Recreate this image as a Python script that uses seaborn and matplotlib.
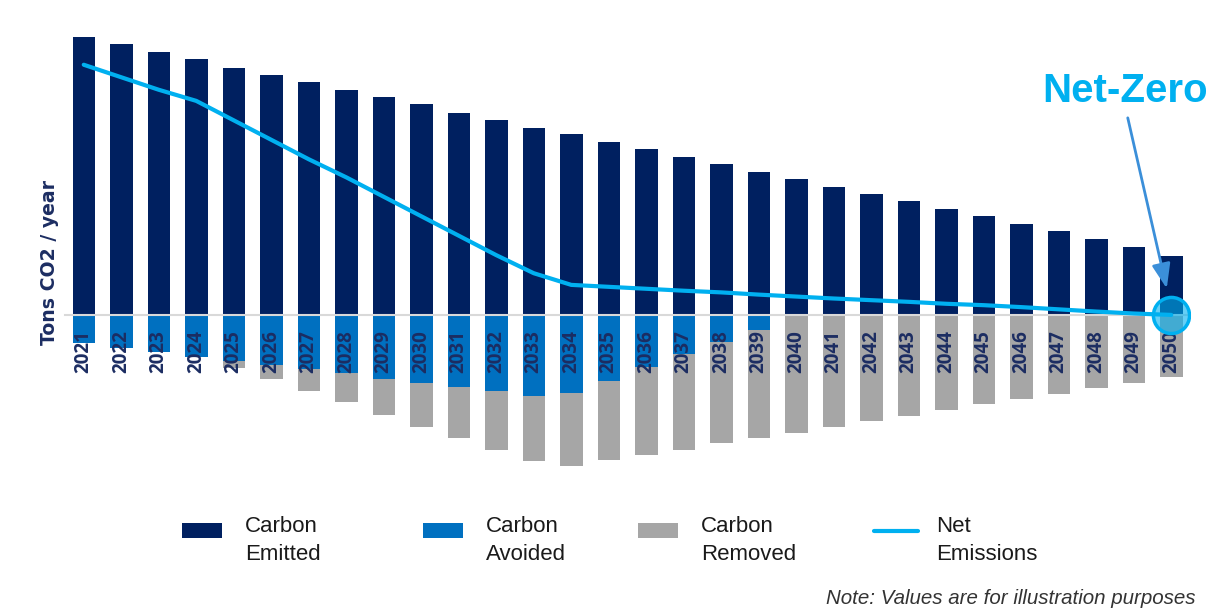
import numpy as np
import matplotlib
matplotlib.use("Agg")
import matplotlib.pyplot as plt
import seaborn as sns
from matplotlib.patches import Patch
from matplotlib.lines import Line2D

# Annual carbon pathway (relative units, 2021 emissions = 100)
years = [str(y) for y in range(2021, 2051)]

carbon_emitted = [100.0, 97.3, 94.6, 92.0, 89.0, 86.3, 83.7, 81.0, 78.4, 75.7,
                  72.8, 70.1, 67.4, 65.1, 62.2, 59.7, 56.8, 54.3, 51.4, 48.9,
                  46.0, 43.5, 41.0, 38.1, 35.6, 32.7, 30.2, 27.3, 24.6, 21.2]

carbon_avoided = [10.1, 11.9, 13.3, 15.1, 16.5, 18.0, 19.4, 20.9, 23.0, 24.5,
                  25.9, 27.3, 29.1, 28.1, 23.7, 18.7, 14.0, 9.7, 5.4, 0.0,
                  0.0, 0.0, 0.0, 0.0, 0.0, 0.0, 0.0, 0.0, 0.0, 0.0]

carbon_removed = [0.0, 0.0, 0.0, 0.0, 2.5, 5.0, 7.9, 10.4, 12.9, 15.8,
                  18.3, 21.2, 23.4, 26.3, 28.4, 31.7, 34.5, 36.3, 38.8, 42.4,
                  40.3, 38.1, 36.3, 34.2, 32.0, 30.2, 28.4, 26.3, 24.5, 22.3]

net_emissions = [90.0, 85.5, 81.0, 77.0, 70.0, 63.0, 56.0, 49.5, 42.5, 35.5,
                 28.5, 21.5, 15.0, 10.8, 10.1, 9.4, 8.7, 8.1, 7.3, 6.6,
                 5.9, 5.3, 4.7, 4.0, 3.5, 2.8, 2.0, 1.2, 0.5, 0.0]

legend_labels = ["Carbon\nEmitted", "Carbon\nAvoided", "Carbon\nRemoved", "Net\nEmissions"]

NAVY = "#002060"
BLUE = "#0070c0"
GRAY = "#a6a6a6"
CYAN = "#00b0f0"
ARROW = "#3b8fd9"
LABEL = "#1c2d62"
AXIS = "#d9d9d9"

sns.set_style("white")
plt.rcParams["font.family"] = ["Liberation Sans", "DejaVu Sans"]

W, H = 1219, 611
fig = plt.figure(figsize=(W / 100, H / 100), dpi=100)
ax = fig.add_axes([65 / W, 131 / H, 1125 / W, 460 / H])

below_zero = [a + r for a, r in zip(carbon_avoided, carbon_removed)]

bar_kw = dict(saturation=1, width=0.6, errorbar=None, ax=ax, linewidth=0)
sns.barplot(x=years, y=carbon_emitted, color=NAVY, **bar_kw)
sns.barplot(x=years, y=[-v for v in below_zero], color=GRAY, **bar_kw)
sns.barplot(x=years, y=[-v for v in carbon_avoided], color=BLUE, **bar_kw)

sns.lineplot(x=years, y=net_emissions, color=CYAN, linewidth=3, sort=False,
             ax=ax, zorder=4)

# Net-zero marker at the final year
ax.plot([years[-1]], [net_emissions[-1]], marker="o", markersize=26,
        markerfacecolor=(0.0, 0.69, 0.94, 0.6), markeredgecolor=CYAN,
        markeredgewidth=2.5, linestyle="none", zorder=5)

ax.set_xlim(-0.5, len(years) - 0.5)
ax.set_ylim(-59.4, 106.1)
ax.set_axisbelow(False)

for side in ["left", "top", "right"]:
    ax.spines[side].set_visible(False)
ax.spines["bottom"].set_position(("data", 0))
ax.spines["bottom"].set_color(AXIS)
ax.spines["bottom"].set_linewidth(1.5)

ax.set_yticks([])
ax.set_xticks(range(len(years)))
ax.set_xticklabels(years, rotation=90, fontsize=13.5, fontweight="bold",
                   color=LABEL, family=["Open Sans", "DejaVu Sans"])
ax.tick_params(axis="x", which="major", length=0, pad=11)
ax.set_xticks(np.arange(-0.5, len(years), 1.0), minor=True)
ax.tick_params(axis="x", which="minor", length=5, width=1.2, color=AXIS,
               direction="out")
ax.set_xlabel("")

ax.set_ylabel("Tons CO2 / year", fontsize=13.6, fontweight="bold", color=LABEL,
              family=["DejaVu Sans"])
ax.yaxis.label.set_va("center")
ax.yaxis.set_label_coords(-0.0142, 0.472)

# Net-Zero callout
ax.text(27.76, 76.6, "Net-Zero", ha="center", va="baseline", fontsize=29,
        fontweight="bold", color=CYAN)
ax.annotate("", xy=(28.88, 9.5), xytext=(27.84, 70.9),
            arrowprops=dict(arrowstyle="-|>,head_length=0.75,head_width=0.28",
                            color=ARROW, lw=2, shrinkA=0, shrinkB=0,
                            mutation_scale=20))

# Legend entries laid out along the bottom
handles = [
    Patch(facecolor=NAVY, edgecolor="none"),
    Patch(facecolor=BLUE, edgecolor="none"),
    Patch(facecolor=GRAY, edgecolor="none"),
    Line2D([0], [0], color=CYAN, linewidth=3),
]
lefts = [182, 423, 638, 874]
for h, lab, x0 in zip(handles, legend_labels, lefts):
    is_line = isinstance(h, Line2D)
    leg = fig.legend(handles=[h], labels=[lab], loc="upper left",
                     bbox_to_anchor=(x0 / W, 1 - 516 / H),
                     bbox_transform=fig.transFigure,
                     frameon=False, fontsize=16, labelcolor="#1a1a1a",
                     handlelength=2.0 if is_line else 1.8,
                     handleheight=0.63,
                     handletextpad=0.8 if is_line else 1.03,
                     borderpad=0, borderaxespad=0)
    for t in leg.get_texts():
        t.set_multialignment("left")
        t.set_linespacing(1.42)
    # lift the key so it sits beside the first text line
    for art in leg.legend_handles:
        if isinstance(art, Line2D):
            art.set_ydata(np.asarray(art.get_ydata()) + 6.8)
        else:
            art.set_y(art.get_y() + 7.4)

fig.text(1195 / W, 1 - 598 / H, "Note: Values are for illustration purposes",
         ha="right", va="center", fontsize=14.8, style="italic", color="#333333")

fig.savefig("out.png", dpi=100, facecolor="white")
